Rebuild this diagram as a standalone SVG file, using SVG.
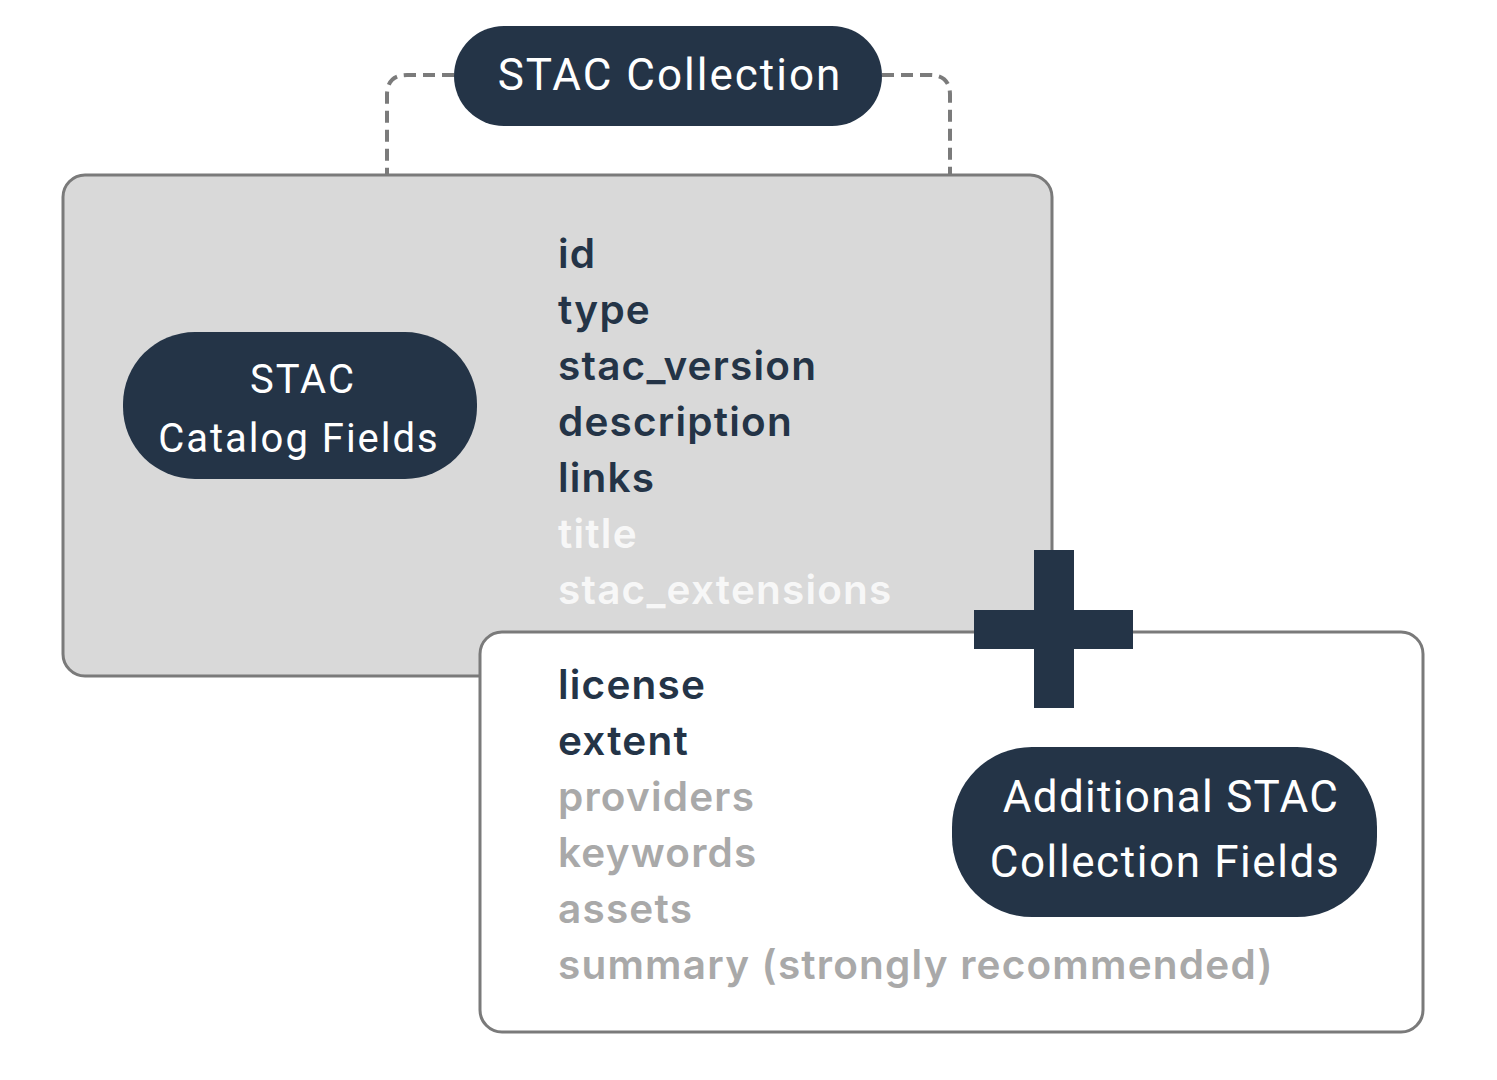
<svg xmlns="http://www.w3.org/2000/svg" width="1497" height="1080" viewBox="0 0 1497 1080">
<style>
.pill{fill:#243447}
.pt{font-family:Roboto,"Liberation Sans",sans-serif;fill:#ffffff;text-anchor:middle;letter-spacing:2px}
.f{font-family:Inter,"Liberation Sans",sans-serif;font-weight:600;font-size:40.5px;letter-spacing:1.2px}
.dk{fill:#243447}
.wh{fill:#f7f7f7}
.gr{fill:#a9a9a9}
.conn{fill:none;stroke:#7b7b7b;stroke-width:4;stroke-dasharray:12 7}
</style>
<rect width="1497" height="1080" fill="#ffffff"/>
<g id="connectors">
<path class="conn" d="M454 75 H407 Q387 75 387 95 V174"/>
<path class="conn" d="M882 75 H930 Q950 75 950 95 V174"/>
</g>
<g id="catalog-box">
<rect x="63" y="175" width="989" height="501" rx="22" fill="#d9d9d9" stroke="#7a7a7a" stroke-width="3"/>
<text class="f dk" x="558" y="268">id</text>
<text class="f dk" x="558" y="324">type</text>
<text class="f dk" x="558" y="380">stac_version</text>
<text class="f dk" x="558" y="436">description</text>
<text class="f dk" x="558" y="492">links</text>
<text class="f wh" x="558" y="548">title</text>
<text class="f wh" x="558" y="604">stac_extensions</text>
</g>
<g id="collection-box">
<rect x="480" y="632" width="943" height="400" rx="22" fill="#ffffff" stroke="#7a7a7a" stroke-width="3"/>
<text class="f dk" x="558" y="699">license</text>
<text class="f dk" x="558" y="755">extent</text>
<text class="f gr" x="558" y="811">providers</text>
<text class="f gr" x="558" y="867">keywords</text>
<text class="f gr" x="558" y="923">assets</text>
<text class="f gr" x="558" y="979">summary (strongly recommended)</text>
</g>
<g id="plus">
<rect x="1034" y="550" width="40" height="158" class="pill"/>
<rect x="974" y="610" width="159" height="39" class="pill"/>
</g>
<g id="stac-collection">
<rect x="454" y="26" width="428" height="100" rx="50" class="pill"/>
<text class="pt" x="670" y="90" font-size="44">STAC Collection</text>
</g>
<g id="stac-catalog-fields">
<rect x="123" y="332" width="354" height="147" rx="72" class="pill"/>
<text class="pt" x="303" y="393" font-size="40">STAC</text>
<text class="pt" x="299" y="452" font-size="40">Catalog Fields</text>
</g>
<g id="additional-fields">
<rect x="952" y="747" width="425" height="170" rx="80" class="pill"/>
<text class="pt" x="1171" y="812" font-size="44" style="letter-spacing:1.3px">Additional STAC</text>
<text class="pt" x="1165" y="877" font-size="44" style="letter-spacing:1.6px">Collection Fields</text>
</g>
</svg>
